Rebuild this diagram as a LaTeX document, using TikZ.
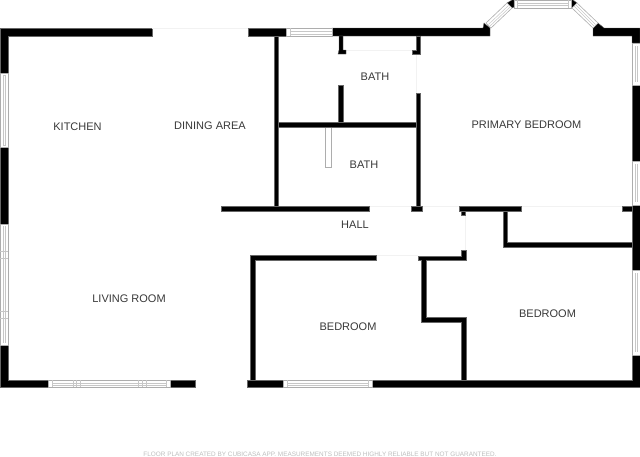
\documentclass[tikz,border=0pt]{standalone}
\usepackage{fontspec}
\setmainfont{Liberation Sans}
\usepackage{tikz}

\begin{document}
\begin{tikzpicture}[x=1pt,y=-1pt]
\tikzstyle{every node}=[inner sep=0pt, yshift=-.8pt, text=black!78, font=\fontsize{11}{13}\selectfont]
\tikzstyle{wall}=[fill=black, draw=black!60, line width=.4pt]
\tikzstyle{frame}=[draw=black!32, fill=white, line width=.6pt]
\tikzstyle{pane}=[draw=black!22, line width=.5pt]
\tikzstyle{opening}=[draw=black!5, line width=.6pt]
\useasboundingbox (0,0) rectangle (640,456);
% outer walls
\draw[wall] (0,28) -- (152,28) -- (152,36) -- (8,36) -- (8,73) -- (0,73) -- cycle;
\draw[wall] (0,147) rectangle (8,224);
\draw[wall] (0,345) -- (8,345) -- (8,380) -- (48,380) -- (48,387) -- (0,387) -- cycle;
\draw[wall] (170,380) rectangle (195,387);
\draw[wall] (248,28) rectangle (286,36);
\draw[wall] (332,28) -- (483,28) -- (484,23) -- (490,28) -- (490,36) -- (332,36) -- cycle;
\draw[wall] (507,3) -- (512,0) -- (514,0) -- (514,7) -- (512,8) -- cycle;
\draw[wall] (577,3) -- (573,0) -- (571,0) -- (571,7) -- (572,8) -- cycle;
\draw[wall] (593,36) -- (593,28) -- (598,23) -- (604,28) -- (640,28) -- (640,43) -- (632,43) -- (632,36) -- cycle;
\draw[wall] (632,85) rectangle (640,161);
\draw[wall] (632,205) rectangle (640,270);
\draw[wall] (632,355) -- (640,355) -- (640,387) -- (372,387) -- (372,380) -- (632,380) -- cycle;
\draw[wall] (247,380) rectangle (283,387);
% windows
\draw[frame] (0,73) rectangle (8,147);
\draw[pane] (3,75) rectangle (5,145);
\draw[frame] (0,224) rectangle (8,345);
\draw[pane] (3,226) -- (3,343) (5,226) -- (5,343) (0,251) -- (8,251) (0,258) -- (8,258) (0,311) -- (8,311) (0,318) -- (8,318);
\draw[frame] (48,380) rectangle (170,387);
\draw[pane] (52,383) -- (166,383) (52,385) -- (166,385) (52,380) -- (52,387) (73,380) -- (73,387) (76,380) -- (76,387) (80,380) -- (80,387) (138,380) -- (138,387) (142,380) -- (142,387) (146,380) -- (146,387) (166,380) -- (166,387);
\draw[frame] (283,380) rectangle (372,387);
\draw[pane] (287,383) -- (368,383) (287,385) -- (368,385) (287,380) -- (287,387) (368,380) -- (368,387);
\draw[frame] (286,28) rectangle (332,36);
\draw[pane] (290,31) -- (332,31) (290,34) -- (332,34) (290,28) -- (290,36);
\draw[frame] (514,0) rectangle (571,8);
\draw[pane] (517,3) -- (568,3) (517,5) -- (568,5) (517,0) -- (517,8) (568,0) -- (568,8);
\draw[frame] (507,3) -- (512,8) -- (491,28) -- (486,23) -- cycle;
\draw[pane] (508.5,5.5) -- (488.5,24.5) (510,7) -- (490,26);
\draw[frame] (577,3) -- (572,8) -- (593,28) -- (598,23) -- cycle;
\draw[pane] (575.5,4.5) -- (595.5,24.5) (574,6) -- (594,26);
\draw[frame] (632,43) rectangle (640,85);
\draw[pane] (635,46) -- (635,82) (637,46) -- (637,82);
\draw[frame] (632,161) rectangle (640,205);
\draw[pane] (635,164) -- (635,202) (637,164) -- (637,202);
\draw[frame] (632,270) rectangle (640,355);
\draw[pane] (635,273) -- (635,352) (637,273) -- (637,352);
\draw[frame] (325,127) rectangle (331,167);
% door openings
\draw[opening] (152,28) -- (248,28);
\draw[opening] (346,50) -- (412,50);
\draw[opening] (416,54) -- (416,93);
\draw[opening] (369,206) -- (411,206);
\draw[opening] (422,206) -- (459,206);
\draw[opening] (521,206) -- (622,206);
\draw[opening] (465,211) -- (465,250);
\draw[opening] (376,255) -- (418,255);
% inner walls
\draw[wall] (274,36) rectangle (278.5,206);
\draw[wall] (221,206) rectangle (369,211);
\draw[wall] (411,206) rectangle (422,211);
\draw[wall] (459,206) rectangle (521,211);
\draw[wall] (622,206) rectangle (632,211);
\draw[wall] (461,211) rectangle (465,215);
\draw[wall] (278,122) rectangle (416,127);
\draw[wall] (339,36) -- (343,36) -- (343,50) -- (346,50) -- (346,54) -- (338,54) -- (339,50) -- cycle;
\draw[wall] (338,85) rectangle (343,122);
\draw[wall] (416,36) -- (420,36) -- (420,54) -- (412,54) -- (412,50) -- (416,50) -- cycle;
\draw[wall] (416,93) rectangle (420,206);
\draw[wall] (250,255) -- (376,255) -- (376,260) -- (255,260) -- (255,380) -- (250,380) -- cycle;
\draw[wall] (418,256) -- (461,256) -- (461,250) -- (466,250) -- (466,260) -- (426,260) -- (426,317) -- (466,317) -- (466,380) -- (461,380) -- (461,322) -- (421,322) -- (421,260) -- (418,260) -- cycle;
\draw[wall] (503,211) -- (507.5,211) -- (507.5,242) -- (632,242) -- (632,247) -- (503,247) -- cycle;
% room names
\draw (77.5,126) node (kitchen) {KITCHEN};
\draw (210,125) node (dining) {DINING AREA};
\draw (375,76) node (bathupper) {BATH};
\draw (364,164) node (bathlower) {BATH};
\draw (526.5,123.5) node (primary) {PRIMARY BEDROOM};
\draw (355,224) node (hall) {HALL};
\draw (129,298) node (living) {LIVING ROOM};
\draw (348,326) node (bedroomleft) {BEDROOM};
\draw (547.5,313) node (bedroomright) {BEDROOM};
\draw (320,453) node (credit) [text=black!26, font=\fontsize{6.4}{8}\selectfont] {FLOOR PLAN CREATED BY CUBICASA APP. MEASUREMENTS DEEMED HIGHLY RELIABLE BUT NOT GUARANTEED.};
\end{tikzpicture}
\end{document}
